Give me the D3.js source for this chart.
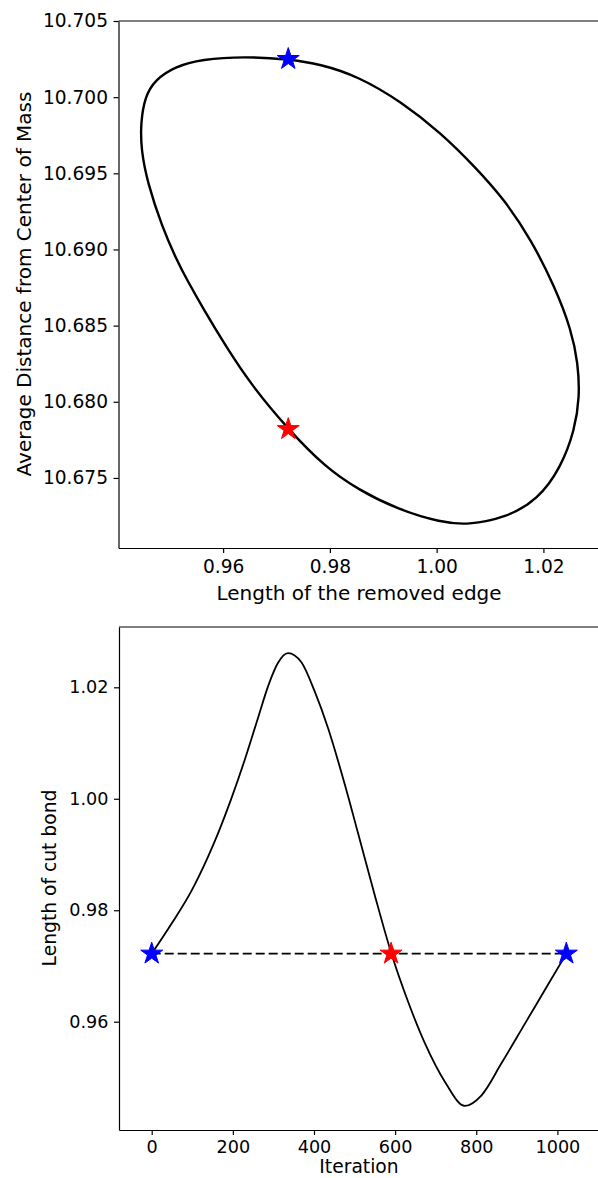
<!DOCTYPE html>
<html>
<head>
<meta charset="utf-8">
<script src="https://cdn.jsdelivr.net/npm/d3@7"></script>
<style>
  body { margin: 0; background: #fff; }
  svg { display: block; font-family: "DejaVu Sans", sans-serif; }
  .tick text { font-family: "DejaVu Sans", sans-serif; fill: #000; }
  .tick line { stroke: #000; stroke-width: 1.2; }
  .domain { stroke: #000; stroke-width: 1.2; }
</style>
</head>
<body>
<svg id="chart" width="598" height="1178"></svg>
<script>
// top panel: length of removed edge vs avg distance, traced round the loop
const loopLen = [0.97217, 0.97816, 0.98528, 0.99339, 1.00088, 1.00714, 1.01275, 1.01773, 1.02212, 1.02523,
  1.02648, 1.0268, 1.02586, 1.02335, 1.01899, 1.01275, 1.00588, 1.00088, 0.99277, 0.98528,
  0.97904, 0.9723, 0.96549, 0.96054, 0.95605, 0.95324, 0.95129, 0.94854, 0.94586, 0.94464,
  0.94455, 0.94534, 0.94721, 0.95096, 0.95594, 0.96406];
const loopDist = [10.70249, 10.70218, 10.70137, 10.6997, 10.69763, 10.69544, 10.69325, 10.69062, 10.68756, 10.68472,
  10.68253, 10.68034, 10.67815, 10.67574, 10.67356, 10.67236, 10.67192, 10.67207, 10.67292, 10.67423,
  10.67574, 10.67815, 10.681, 10.68362, 10.68625, 10.688, 10.68931, 10.6915, 10.69435, 10.69653,
  10.69828, 10.70003, 10.70113, 10.702, 10.70249, 10.70267];

// bottom panel: bond length per iteration
const iters = [0, 48, 98, 139, 163, 196, 229, 262, 287, 311, 336, 369, 402, 435, 476, 509, 550, 591,
  632, 673, 723, 772, 813, 862, 920, 977, 1022];
const bondLen = [0.9722, 0.97748, 0.98348, 0.98963, 0.99371, 0.99998, 1.00691, 1.0145, 1.02022, 1.02436,
  1.02614, 1.02449, 1.01921, 1.01261, 1.00256, 0.99372, 0.98265, 0.97219,
  0.96358, 0.9562, 0.9492, 0.9449, 0.9468, 0.95253, 0.95966, 0.96667, 0.9722];

// starred states
const starIter = [0, 590, 1022];
const starLen = [0.9722, 0.9722, 0.9722];
const starDist = [10.7025, 10.6782, 10.7025];

const topTicksX = [0.96, 0.98, 1.00, 1.02];
const topTicksY = [10.675, 10.680, 10.685, 10.690, 10.695, 10.700, 10.705];
const botTicksX = [0, 200, 400, 600, 800, 1000];
const botTicksY = [0.96, 0.98, 1.00, 1.02];

const svg = d3.select("#chart");
const starColor = i => (i === 1 ? "#ff0000" : "#0000ff");
const star = d3.symbol().type(d3.symbolStar).size(150);

function frame(g, x, y, tx, ty, fx, fy, fs, padX) {
  const [x0, x1] = x.range();
  const [y1, y0] = y.range();
  g.append("g").attr("transform", `translate(0,${y1})`)
    .call(d3.axisBottom(x).tickValues(tx).tickFormat(fx).tickSize(5).tickPadding(padX).tickSizeOuter(0))
    .selectAll(".tick text").style("font-size", fs + "px");
  g.append("g").attr("transform", `translate(${x0},0)`)
    .call(d3.axisLeft(y).tickValues(ty).tickFormat(fy).tickSize(5).tickPadding(5.5).tickSizeOuter(0))
    .selectAll(".tick text").style("font-size", fs + "px");
  g.append("line").attr("x1", x0).attr("x2", x1).attr("y1", y0).attr("y2", y0)
    .attr("stroke", "#000").attr("stroke-width", 1.2);
}

// ---- top ----
const xT = d3.scaleLinear().domain([0.9404, 1.0306]).range([118.5, 600]);
const yT = d3.scaleLinear().domain([10.6704, 10.705]).range([548, 21]);
const gT = svg.append("g");

gT.append("path")
  .datum(d3.range(loopLen.length))
  .attr("fill", "none").attr("stroke", "#000").attr("stroke-width", 2.4)
  .attr("d", d3.line().x(i => xT(loopLen[i])).y(i => yT(loopDist[i])).curve(d3.curveBasisClosed));

gT.selectAll(".star").data([0, 1]).enter().append("path")
  .attr("transform", i => `translate(${xT(starLen[i])},${yT(starDist[i])})`)
  .attr("d", star).attr("fill", starColor).attr("stroke", starColor).attr("stroke-width", 1);

frame(gT, xT, yT, topTicksX, topTicksY, d3.format(".2f"), d3.format(".3f"), 18.6, 7);

gT.append("text").attr("x", 359).attr("y", 600).attr("text-anchor", "middle")
  .attr("font-size", 20).text("Length of the removed edge");
gT.append("text").attr("transform", "translate(31,284) rotate(-90)").attr("text-anchor", "middle")
  .attr("font-size", 20).text("Average Distance from Center of Mass");

// ---- bottom ----
const xB = d3.scaleLinear().domain([-80.6, 1105]).range([119, 600]);
const yB = d3.scaleLinear().domain([0.94057, 1.03082]).range([1130, 627]);
const gB = svg.append("g");

gB.append("path")
  .datum(d3.range(iters.length))
  .attr("fill", "none").attr("stroke", "#000").attr("stroke-width", 1.8)
  .attr("d", d3.line().x(i => xB(iters[i])).y(i => yB(bondLen[i])).curve(d3.curveMonotoneX));

gB.append("line")
  .attr("x1", xB(starIter[0])).attr("x2", xB(starIter[2]))
  .attr("y1", yB(starLen[0])).attr("y2", yB(starLen[2]))
  .attr("stroke", "#000").attr("stroke-width", 1.8).attr("stroke-dasharray", "9,4");

gB.selectAll(".star").data([0, 1, 2]).enter().append("path")
  .attr("transform", i => `translate(${xB(starIter[i])},${yB(starLen[i])})`)
  .attr("d", star).attr("fill", starColor).attr("stroke", starColor).attr("stroke-width", 1);

frame(gB, xB, yB, botTicksX, botTicksY, d3.format("d"), d3.format(".2f"), 17.6, 6);

gB.append("text").attr("x", 359).attr("y", 1173).attr("text-anchor", "middle")
  .attr("font-size", 18.7).text("Iteration");
gB.append("text").attr("transform", "translate(56,878) rotate(-90)").attr("text-anchor", "middle")
  .attr("font-size", 18.7).text("Length of cut bond");
</script>
</body>
</html>
